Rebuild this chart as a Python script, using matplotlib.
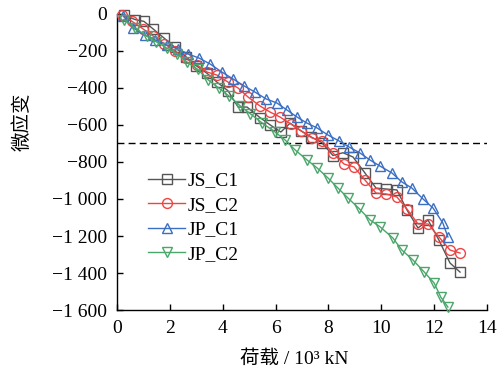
import matplotlib
matplotlib.use("Agg")
import matplotlib.pyplot as plt
from matplotlib.ticker import FixedLocator, FuncFormatter

plt.rcParams['font.family'] = ['Liberation Serif', 'Noto Sans CJK SC']

# JS_C1
js_c1_x = [0.26, 0.68, 1.02, 1.36, 1.78, 2.19, 2.6, 3.0, 3.4, 3.78, 4.2, 4.58, 4.92, 5.41, 5.8, 6.2,
           6.55, 6.95, 7.35, 7.75, 8.17, 8.55, 8.93, 9.38, 9.8, 10.18, 10.59, 10.97, 11.39, 11.77,
           12.18, 12.6, 12.98]
js_c1_y = [-5, -30, -40, -80, -130, -180, -230, -280, -320, -368, -415, -503, -503, -560, -600, -638,
           -590, -630, -665, -695, -765, -750, -773, -859, -941, -946, -951, -1059, -1157, -1114,
           -1222, -1346, -1395]
# JS_C2
js_c2_x = [0.19, 0.57, 0.98, 1.38, 1.78, 2.2, 2.6, 3.03, 3.41, 3.78, 4.2, 4.58, 4.96, 5.41, 5.79,
           6.17, 6.58, 6.96, 7.38, 7.76, 8.17, 8.59, 8.97, 9.38, 9.8, 10.18, 10.59, 10.97, 11.39,
           11.77, 12.18, 12.6, 12.98]
js_c2_y = [-5, -40, -80, -120, -160, -200, -240, -276, -314, -330, -368, -400, -449, -497, -530,
           -557, -595, -632, -670, -686, -751, -811, -827, -897, -968, -973, -989, -1054, -1135,
           -1135, -1205, -1276, -1292]
# JP_C1
jp_c1_x = [0.23, 0.61, 1.06, 1.44, 1.89, 2.31, 2.69, 3.10, 3.52, 3.97, 4.39, 4.81, 5.22, 5.64, 6.05,
           6.43, 6.81, 7.19, 7.57, 7.98, 8.4, 8.78, 9.19, 9.57, 9.95, 10.4, 10.78, 11.16, 11.58,
           11.96, 12.33, 12.52]
jp_c1_y = [-10, -76, -114, -140, -168, -189, -216, -238, -270, -314, -351, -389, -422, -459, -481,
           -519, -557, -590, -616, -654, -686, -719, -751, -789, -822, -859, -908, -941, -1000,
           -1049, -1130, -1205]
# JP_C2
jp_c2_x = [0.26, 0.68, 1.13, 1.48, 1.89, 2.27, 2.65, 3.06, 3.44, 3.85, 4.25, 4.65, 5.05, 5.5, 5.98,
           6.36, 6.74, 7.19, 7.57, 7.98, 8.36, 8.74, 9.15, 9.57, 9.95, 10.44, 10.78, 11.2, 11.62,
           12.0, 12.25, 12.52]
jp_c2_y = [-30, -75, -120, -150, -185, -215, -260, -300, -355, -400, -445, -495, -540, -590, -638,
           -681, -735, -789, -832, -886, -941, -995, -1050, -1113, -1150, -1211, -1276, -1330,
           -1394, -1454, -1530, -1584]

threshold = -700
x_ticks = [0, 2, 4, 6, 8, 10, 12, 14]
y_ticks = [0, -200, -400, -600, -800, -1000, -1200, -1400, -1600]

fig = plt.figure(figsize=(5.03, 3.77), dpi=100)
ax = fig.add_axes([0.2326, 0.1777, 0.7356, 0.7852])

fs = 14
ms = 6.8
ax.plot(js_c1_x, js_c1_y, color='#555555', lw=1.0, marker='s', ms=ms, mfc='none', mew=1.0,
        label='JS_C1', clip_on=False, zorder=3)
ax.plot(js_c2_x, js_c2_y, color='#ee4444', lw=1.0, marker='o', ms=ms + 0.3, mfc='none', mew=1.0,
        label='JS_C2', clip_on=False, zorder=3)
ax.plot(jp_c1_x, jp_c1_y, color='#3a6fc4', lw=1.0, marker='^', ms=ms + 0.5, mfc='none', mew=1.0,
        label='JP_C1', clip_on=False, zorder=3)
ax.plot(jp_c2_x, jp_c2_y, color='#4aa66a', lw=1.0, marker='v', ms=ms + 0.5, mfc='none', mew=1.0,
        label='JP_C2', clip_on=False, zorder=3)

ax.plot([0, 14], [threshold, threshold], color='black', lw=1.0, ls=(0, (5, 3)), zorder=2)

ax.set_xlim(0, 14)
ax.set_ylim(-1600, 0)
ax.xaxis.set_major_locator(FixedLocator(x_ticks))
ax.yaxis.set_major_locator(FixedLocator(y_ticks))

def yfmt(v, pos):
    v = int(round(v))
    if v == 0:
        return '0'
    s = f"{abs(v):,}".replace(',', ' ')
    return '\u2212' + s

ax.yaxis.set_major_formatter(FuncFormatter(yfmt))
ax.tick_params(direction='in', length=4, width=1, labelsize=fs, pad=7)
for s in ['top', 'right']:
    ax.spines[s].set_visible(False)
for s in ['left', 'bottom']:
    ax.spines[s].set_linewidth(1.0)

ax.set_xlabel('荷载 / 10³ kN', fontsize=fs)
ax.set_ylabel('微应变', fontsize=fs)
ax.xaxis.set_label_coords(0.478, -0.135)
ax.yaxis.set_label_coords(-0.232, 0.635)

leg = ax.legend(loc='upper left', bbox_to_anchor=(0.084, 0.467), frameon=False, fontsize=fs,
                handlelength=1.9, handletextpad=0.15, labelspacing=0.36, borderaxespad=0,
                borderpad=0)

fig.savefig('out.png', dpi=100)
